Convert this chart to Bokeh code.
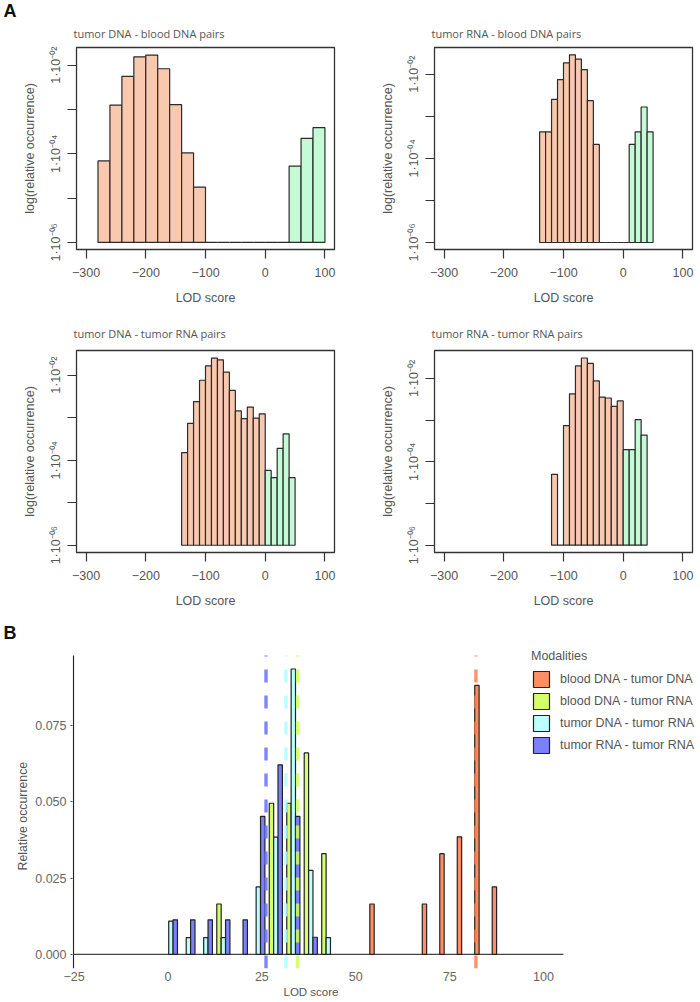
from bokeh.embed import file_html
from bokeh.resources import INLINE
from bokeh.plotting import figure
from bokeh.layouts import column, row
from bokeh.models import Range1d, FixedTicker, Label, Legend, LegendItem, Title

# ---- Panel A: histograms (left bin edges, log10 relative occurrence; -6 = empty bin)
titles = ["tumor DNA - blood DNA pairs", "tumor RNA - blood DNA pairs",
          "tumor DNA - tumor RNA pairs", "tumor RNA - tumor RNA pairs"]

a1_edges = [-280, -260, -240, -220, -200, -180, -160, -140, -120, -100, -80, -60, -40, -20, 0, 20, 40, 60, 80]
a1_log = [-4.16, -2.90, -2.25, -1.81, -1.77, -2.08, -2.89, -3.98, -4.75, -6, -6, -6, -6, -6, -6, -6, -4.28, -3.65, -3.41]
a1_bin = 20

a2_edges = [-140, -130, -120, -110, -100, -90, -80, -70, -60, -50, -40, -30, -20, -10, 0, 10, 20, 30, 40]
a2_log = [-3.37, -3.37, -2.60, -2.13, -1.73, -1.54, -1.64, -1.89, -2.63, -3.67, -6, -6, -6, -6, -6, -3.67, -3.37, -2.78, -3.37]
a2_bin = 10

a3_edges = [-140, -130, -120, -110, -100, -90, -80, -70, -60, -50, -40, -30, -20, -10, 0, 10, 20, 30, 40]
a3_log = [-3.82, -3.135, -2.62, -2.12, -1.78, -1.60, -1.64, -1.93, -2.36, -2.84, -3.02, -2.75, -3.01, -2.91, -4.24, -4.41, -3.72, -3.38, -4.41]
a3_bin = 10

a4_edges = [-120, -110, -100, -90, -80, -70, -60, -50, -40, -30, -20, -10, 0, 10, 20, 30]
a4_log = [-4.30, -6, -3.13, -2.37, -1.70, -1.51, -1.64, -2.06, -2.45, -2.47, -2.67, -2.54, -3.71, -3.71, -2.99, -3.36]
a4_bin = 10

x_ticks_a = [-300, -200, -100, 0, 100]
x_labels_a = ["\u2212300", "\u2212200", "\u2212100", "0", "100"]
y_ticks_a = [1e-6, 1e-5, 1e-4, 1e-3, 1e-2]
y_labels_a = ["1\u00b710\u207b\u2070\u2076", "", "1\u00b710\u207b\u2070\u2074", "", "1\u00b710\u207b\u2070\u00b2"]

# ---- Panel B: dodged histogram
b_bins = [-2.14, 2.52, 7.17, 11.83, 16.49, 21.14, 25.80, 30.46, 35.11, 39.77, 53.74, 67.71, 72.37, 77.03, 81.68, 86.34]
b_orange = [0, 0, 0, 0, 0, 0, 0, 0, 0, 0, 0.0165, 0.0165, 0.033, 0.0385, 0.0881, 0.0221]
b_green = [0, 0, 0, 0.0165, 0, 0, 0.0495, 0.0495, 0.066, 0.033, 0, 0, 0, 0, 0, 0]
b_cyan = [0.0109, 0.0055, 0.0055, 0.0055, 0, 0.0221, 0.0384, 0.0935, 0.0275, 0.0055, 0, 0, 0, 0, 0, 0]
b_blue = [0.0113, 0.0113, 0.0113, 0.0113, 0.0113, 0.0452, 0.0621, 0.0452, 0.0056, 0, 0, 0, 0, 0, 0, 0]
b_means = [82.0, 34.5, 31.4, 26.1]
b_names = ["blood DNA - tumor DNA", "blood DNA - tumor RNA", "tumor DNA - tumor RNA", "tumor RNA - tumor RNA"]
b_colors = ["#FF8F62", "#D4FF6A", "#BDFFFF", "#7B80FF"]
b_line_colors = ["#FF7F4C", "#CCFF55", "#AFFFFF", "#6A70FF"]
x_ticks_b = [-25, 0, 25, 50, 75, 100]
x_labels_b = ["\u221225", "0", "25", "50", "75", "100"]
y_ticks_b = [0, 0.025, 0.05, 0.075]
y_labels_b = ["0.000", "0.025", "0.050", "0.075"]

PEACH, MINT = "#F8C9AF", "#C3FBD6"
DARK, GREY = "#333333", "#555555"
SANS = "Liberation Sans"


def letter_title(text, offset, standoff):
    return Title(text=text, align="left", offset=offset, standoff=standoff,
                 text_font=SANS, text_font_style="bold", text_font_size="18px", text_color="#111111")


def plain_title(text, font, size, offset, standoff):
    return Title(text=text, align="left", offset=offset, standoff=standoff, text_font=font,
                 text_font_size=size, text_font_style="normal", text_color=GREY)


def hist_panel(title, edges, logs, bin_w, width, height, left, right, top, bottom, y_lim, t_standoff, letter=None):
    p = figure(width=width, height=height, output_backend="svg", toolbar_location=None,
               y_axis_type="log", x_range=Range1d(-316, 116),
               y_range=Range1d(10 ** y_lim[0], 10 ** y_lim[1]),
               min_border_left=left, min_border_right=right, min_border_top=top, min_border_bottom=bottom)
    p.grid.visible = False
    p.outline_line_color = DARK
    p.outline_line_width = 1.3
    lefts = list(edges)
    rights = [e + bin_w for e in edges]
    tops = [10 ** v for v in logs]
    colors = [MINT if e >= 0 else PEACH for e in edges]
    p.quad(left=lefts, right=rights, bottom=1e-6, top=tops, fill_color=colors,
           line_color="#2b2b2b", line_width=1.2)
    p.title = plain_title(title, "Open Sans", "11px", -3, t_standoff)

    p.xaxis.ticker = FixedTicker(ticks=x_ticks_a)
    p.xaxis.major_label_overrides = dict(zip(x_ticks_a, x_labels_a))
    p.yaxis.ticker = FixedTicker(ticks=y_ticks_a)
    p.yaxis.major_label_overrides = dict(zip(y_ticks_a, y_labels_a))
    p.yaxis.major_label_orientation = "vertical"
    p.xaxis.axis_label = "LOD score"
    p.yaxis.axis_label = "log(relative occurrence)"
    for ax in (p.xaxis, p.yaxis):
        ax.axis_line_color = None
        ax.major_tick_in = 0
        ax.major_tick_out = 9
        ax.major_tick_line_color = DARK
        ax.major_tick_line_width = 1.2
        ax.minor_tick_line_color = None
        ax.major_label_text_font = SANS
        ax.major_label_text_font_size = "12.5px"
        ax.major_label_text_color = GREY
        ax.axis_label_text_font = SANS
        ax.axis_label_text_font_size = "12.5px"
        ax.axis_label_text_font_style = "normal"
        ax.axis_label_text_color = GREY
    p.xaxis.major_label_standoff = 9
    p.xaxis.axis_label_standoff = 11
    p.yaxis.major_label_standoff = 4
    p.yaxis.axis_label_standoff = 10
    if letter:
        p.add_layout(Label(x=-3, y=239, x_units="screen", y_units="screen", text=letter,
                           text_font=SANS, text_font_style="bold", text_font_size="18px",
                           text_color="#111111", text_baseline="alphabetic"), "left")
    return p


p1 = hist_panel(titles[0], a1_edges, a1_log, a1_bin, 350, 310, 76, 16, 47, 61, (-6.16, -1.6), 14, "A")
p2 = hist_panel(titles[1], a2_edges, a2_log, a2_bin, 350, 310, 84, 8, 47, 61, (-6.166, -1.366), 14)
p3 = hist_panel(titles[2], a3_edges, a3_log, a3_bin, 350, 310, 76, 16, 40, 68, (-6.17, -1.42), 19)
p4 = hist_panel(titles[3], a4_edges, a4_log, a4_bin, 350, 310, 84, 8, 40, 68, (-6.176, -1.33), 19)

# ---- Panel B
Y_BOTTOM, AXIS_TOP, Y_TOP = -0.00464, 0.09795, 0.10185
X_LEFT, X_AXIS, X_END = -25.43, -25.17, 141.8
pb = figure(width=700, height=381, output_backend="svg", toolbar_location=None,
            x_range=Range1d(X_LEFT, X_END), y_range=Range1d(Y_BOTTOM, Y_TOP),
            min_border_left=72, min_border_right=0, min_border_top=20, min_border_bottom=33)
pb.grid.visible = False
pb.outline_line_color = None
bar_w = (b_bins[1] - b_bins[0]) / 4
pb.line(x=[X_AXIS, X_AXIS], y=[Y_BOTTOM, AXIS_TOP], line_color="#222222", line_width=1.2)
pb.line(x=[X_AXIS, 105.3], y=[0, 0], line_color="#444444", line_width=1.2)
items = []
series = [b_orange, b_green, b_cyan, b_blue]
for k, (vals, col, name) in enumerate(zip(series, b_colors, b_names)):
    idx = [i for i, v in enumerate(vals) if v > 0]
    ls = [b_bins[i] + k * bar_w for i in idx]
    r = pb.quad(left=ls, right=[l + bar_w for l in ls], bottom=0, top=[vals[i] for i in idx],
                fill_color=col, line_color="#222222", line_width=1.2)
    items.append(LegendItem(label=name, renderers=[r]))
for m, col in zip(b_means, b_line_colors):
    pb.line(x=[m, m], y=[Y_BOTTOM, AXIS_TOP], line_color=col, line_width=3.4, line_alpha=0.85,
            line_dash=[13, 13])
leg = Legend(items=items, title="Modalities", location=(459, 213), orientation="vertical",
             glyph_width=20, glyph_height=20, spacing=2, padding=0, margin=0,
             border_line_color=None, background_fill_color=None,
             label_text_font=SANS, label_text_font_size="12.5px", label_text_color=GREY,
             label_standoff=9, label_height=20,
             title_text_font=SANS, title_text_font_size="12.5px", title_text_font_style="normal",
             title_text_color=GREY, title_standoff=6)
pb.add_layout(leg, "center")
pb.xaxis.ticker = FixedTicker(ticks=x_ticks_b)
pb.xaxis.major_label_overrides = dict(zip(x_ticks_b, x_labels_b))
pb.yaxis.ticker = FixedTicker(ticks=y_ticks_b)
pb.yaxis.major_label_overrides = dict(zip(y_ticks_b, y_labels_b))
pb.xaxis.axis_line_color = None
pb.yaxis.axis_line_color = None
pb.xaxis.major_tick_line_color = None
pb.xaxis.minor_tick_line_color = None
pb.xaxis.major_tick_out = 0
pb.xaxis.major_tick_in = 0
pb.yaxis.major_tick_in = 0
pb.yaxis.major_tick_out = 2
pb.yaxis.major_tick_line_color = "#444444"
pb.yaxis.minor_tick_line_color = None
for ax in (pb.xaxis, pb.yaxis):
    ax.major_label_text_font = SANS
    ax.major_label_text_font_size = "12.5px"
    ax.major_label_text_color = "#666666"
pb.xaxis.major_label_standoff = 3
pb.yaxis.major_label_standoff = 4
pb.add_layout(plain_title("LOD score", SANS, "11.5px", 211, 0), "below")
pb.add_layout(plain_title("Relative occurrence", SANS, "12.3px", 98, 5), "left")
pb.add_layout(letter_title("B", -69, 1), "above")

page = column(row(p1, p2, spacing=0), row(p3, p4, spacing=0), pb, spacing=0)
open("out.html", "w").write(file_html(page, INLINE))
